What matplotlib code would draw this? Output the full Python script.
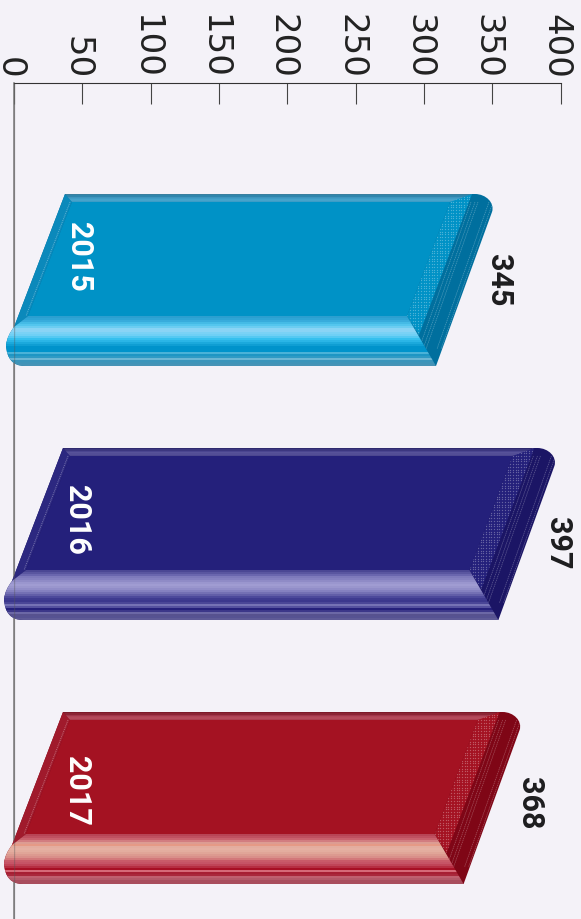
import matplotlib
matplotlib.use('Agg')
import matplotlib.pyplot as plt
import numpy as np
from matplotlib.colors import to_rgb
from matplotlib.patches import PathPatch, Polygon
from matplotlib.path import Path
from matplotlib.transforms import ScaledTranslation

years = ['2015', '2016', '2017']
values = [345, 397, 368]
tick_values = [0, 50, 100, 150, 200, 250, 300, 350, 400]

bg = '#f4f2f8'
face_colors = ['#0092c6', '#24207b', '#a41222']
dark_colors = ['#006f9e', '#1b1565', '#7f0616']
side_colors = ['#0b89bb', '#2c2880', '#a01a2c']
top_bands = [
    ['#3a7f9f', '#2f86ad', '#3f94bd', '#3f9dc6', '#47a3cb', '#3d9cc6'],
    ['#2f2a6f', '#3c3780', '#4a4590', '#575299', '#534e96', '#4c478f'],
    ['#7c1a2a', '#8c2535', '#a0364a', '#b04456', '#b44a5b', '#ad3e50'],
]
front_bands = [
    ['#2b9fd0', '#2fa5d6', '#38acdc', '#45bbe6', '#54c6ee', '#6ccdf1', '#8ad4f5', '#8ad4f5', '#7ad2f5', '#6fd0f5',
     '#55c9f2', '#35c0ee', '#2ab5e6', '#1ba9dc', '#0f9ed3', '#0093cb', '#0093cb', '#0093cb', '#4ab2d8', '#1e96c4',
     '#2f9ac4', '#6cb6d4', '#3a95bb', '#3f94b8', '#4693b6'],
    ['#4b4794', '#5a56a0', '#6a66ae', '#7e7abb', '#8581c0', '#8f8bc6', '#9a96ce', '#a09cd2', '#9a96cd', '#918dc8',
     '#8581c0', '#7470b4', '#625ea8', '#4d499b', '#3f3b90', '#3b378d', '#4a4697', '#7572b5', '#55519f', '#25207b',
     '#3c3789', '#6c68a6', '#57528f', '#565292', '#5e5a96'],
    ['#b84455', '#c05060', '#c9606c', '#d27d80', '#dd9c92', '#e59a86', '#e3ad9f', '#e5b0a2', '#e3ad9f', '#e0a598',
     '#dc9a90', '#d98f8a', '#d2787a', '#c95b69', '#c65466', '#c04558', '#b62e42', '#a71025', '#d66a78', '#a71f33',
     '#a9283b', '#c0606f', '#b45a69', '#a84d5d', '#a84d5d'],
]

# pixel layout of the three bars, y axis is in image pixels
bar_tops = [194, 448, 712]
bar_lefts = [65, 63, 63]
value_label_pos = [(499, 280), (558, 543), (530, 803)]
year_label_y = [257, 520, 791]
label_font = ['Roboto', 'DejaVu Sans']

fig = plt.figure(figsize=(5.81, 9.19), dpi=100, facecolor=bg)
ax = fig.add_axes([14 / 581, 0, 546.5 / 581, 836 / 919], facecolor=bg)

px_per_unit = 546.5 / 400


def X(px):
    return (px - 14) / px_per_unit


def tip_px(value):
    # the bars run a little short of the axis scale in the original
    return 78 + 1.2 * value


def pts(xy):
    return [(X(x), y) for x, y in xy]


def band_image(bands, box, clip):
    colors = np.array([[to_rgb(c)] for c in bands])
    left, right, top, bottom = box
    im = ax.imshow(colors, extent=(X(left), X(right), bottom, top), aspect='auto',
                   interpolation='nearest', zorder=3)
    im.set_clip_path(clip)
    # the strip sticks out left of the axes, so clip to the figure not the axes
    im.set_clip_box(fig.bbox)


for i, value in enumerate(values):
    T = tip_px(value)
    t = bar_tops[i]
    L = bar_lefts[i]

    # outline, everything else sits on top of it
    verts = pts([(L, t), (T - 17, t), (T - 6, t), (T + 3, t + 9), (T, t + 18), (T - 56, t + 172), (L - 40, t + 172),
                 (L - 58, t + 172), (L - 59, t + 151), (L - 58, t + 142), (L - 51, t + 133), (L, t)])
    codes = [Path.MOVETO, Path.LINETO, Path.CURVE4, Path.CURVE4, Path.CURVE4, Path.LINETO, Path.LINETO,
             Path.CURVE3, Path.CURVE3, Path.CURVE3, Path.CURVE3, Path.CLOSEPOLY]
    ax.add_patch(PathPatch(Path(verts, codes), fc=dark_colors[i], ec='none', clip_on=False, zorder=2))

    # right bevel, dotted inner half and thin dashed lines on the dark half
    bevel = Polygon(pts([(T - 42, t + 8), (T - 34, t + 2), (T - 20, t), (T - 73, t + 141), (T - 85, t + 122)]),
                    fc=face_colors[i], ec='none', clip_on=False, zorder=3)
    ax.add_patch(bevel)
    gx, gy = np.meshgrid(np.arange(T - 90, T, 2.7), np.arange(t, t + 145, 2.7))
    dots = ax.scatter(X(gx.ravel()), gy.ravel(), s=0.9, c='white', alpha=0.3, linewidths=0, zorder=3)
    dots.set_clip_path(bevel)
    for off in [-21, -17, -14, -3, 1]:
        ax.plot([X(T + off), X(T + off - 52)], [t + 8, t + 155], color='white', alpha=0.3, lw=0.5,
                ls=(0, (2, 1)), clip_on=False, zorder=3)

    # left bevel
    ax.add_patch(Polygon(pts([(L, t), (L + 7, t + 8), (L - 37, t + 122), (L - 51, t + 133)]),
                         fc=side_colors[i], ec='none', clip_on=False, zorder=3))
    ax.plot([X(L + 5), X(L - 39)], [t + 8, t + 122], color='white', alpha=0.35, lw=0.7, ls=(0, (1, 1)),
            clip_on=False, zorder=4)

    # flat face
    ax.add_patch(Polygon(pts([(L + 7, t + 8), (T - 42, t + 8), (T - 85, t + 122), (L - 37, t + 122)]),
                         fc=face_colors[i], ec='none', clip_on=False, zorder=3))

    # top strip
    top_clip = Polygon(pts([(L, t), (T - 20, t), (T - 42, t + 8), (L + 7, t + 8)]), fc='none', ec='none', clip_on=False)
    ax.add_patch(top_clip)
    band_image(top_bands[i], (L, T, t, t + 8), top_clip)

    # rounded front strip
    verts = pts([(L - 37, t + 122), (T - 85, t + 122), (T - 56, t + 172), (L - 40, t + 172),
                 (L - 58, t + 172), (L - 59, t + 151), (L - 58, t + 142), (L - 51, t + 133), (L - 37, t + 122)])
    codes = [Path.MOVETO, Path.LINETO, Path.LINETO, Path.LINETO,
             Path.CURVE3, Path.CURVE3, Path.CURVE3, Path.CURVE3, Path.CLOSEPOLY]
    front_clip = PathPatch(Path(verts, codes), fc='none', ec='none', clip_on=False)
    ax.add_patch(front_clip)
    band_image(front_bands[i], (L - 62, T, t + 122, t + 172), front_clip)

    ax.text(X(L + 14), year_label_y[i], years[i], rotation=270, ha='center', va='center', color='white',
            fontsize=22, fontweight='bold', family=label_font, zorder=6)
    ax.text(X(value_label_pos[i][0]), value_label_pos[i][1], str(value), rotation=270, ha='center', va='center',
            color='#1d1d1f', fontsize=22, fontweight='bold', family=label_font, zorder=6)

# axis line shows faintly through the bars
ax.axvline(0, color='#555555', alpha=0.35, lw=1, zorder=5)

ax.set_xlim(0, 400)
ax.set_ylim(919, 83)
ax.xaxis.tick_top()
ax.set_xticks(tick_values)
ax.set_xticklabels([str(v) for v in tick_values], rotation=270, ha='center', va='bottom',
                   fontsize=24.5, color='#222222', family='DejaVu Sans')
ax.tick_params(axis='x', direction='in', length=15, width=0.8, color='#444444', pad=3)
ax.set_yticks([])
for label in ax.get_xticklabels():
    label.set_transform(label.get_transform() + ScaledTranslation(-5 / 100, 0, fig.dpi_scale_trans))
for side in ['right', 'bottom']:
    ax.spines[side].set_visible(False)
ax.spines['top'].set_color('#333333')
ax.spines['top'].set_linewidth(0.8)
ax.spines['left'].set_color('#777777')
ax.spines['left'].set_linewidth(1.1)

fig.savefig('out.png', dpi=100, facecolor=bg)
